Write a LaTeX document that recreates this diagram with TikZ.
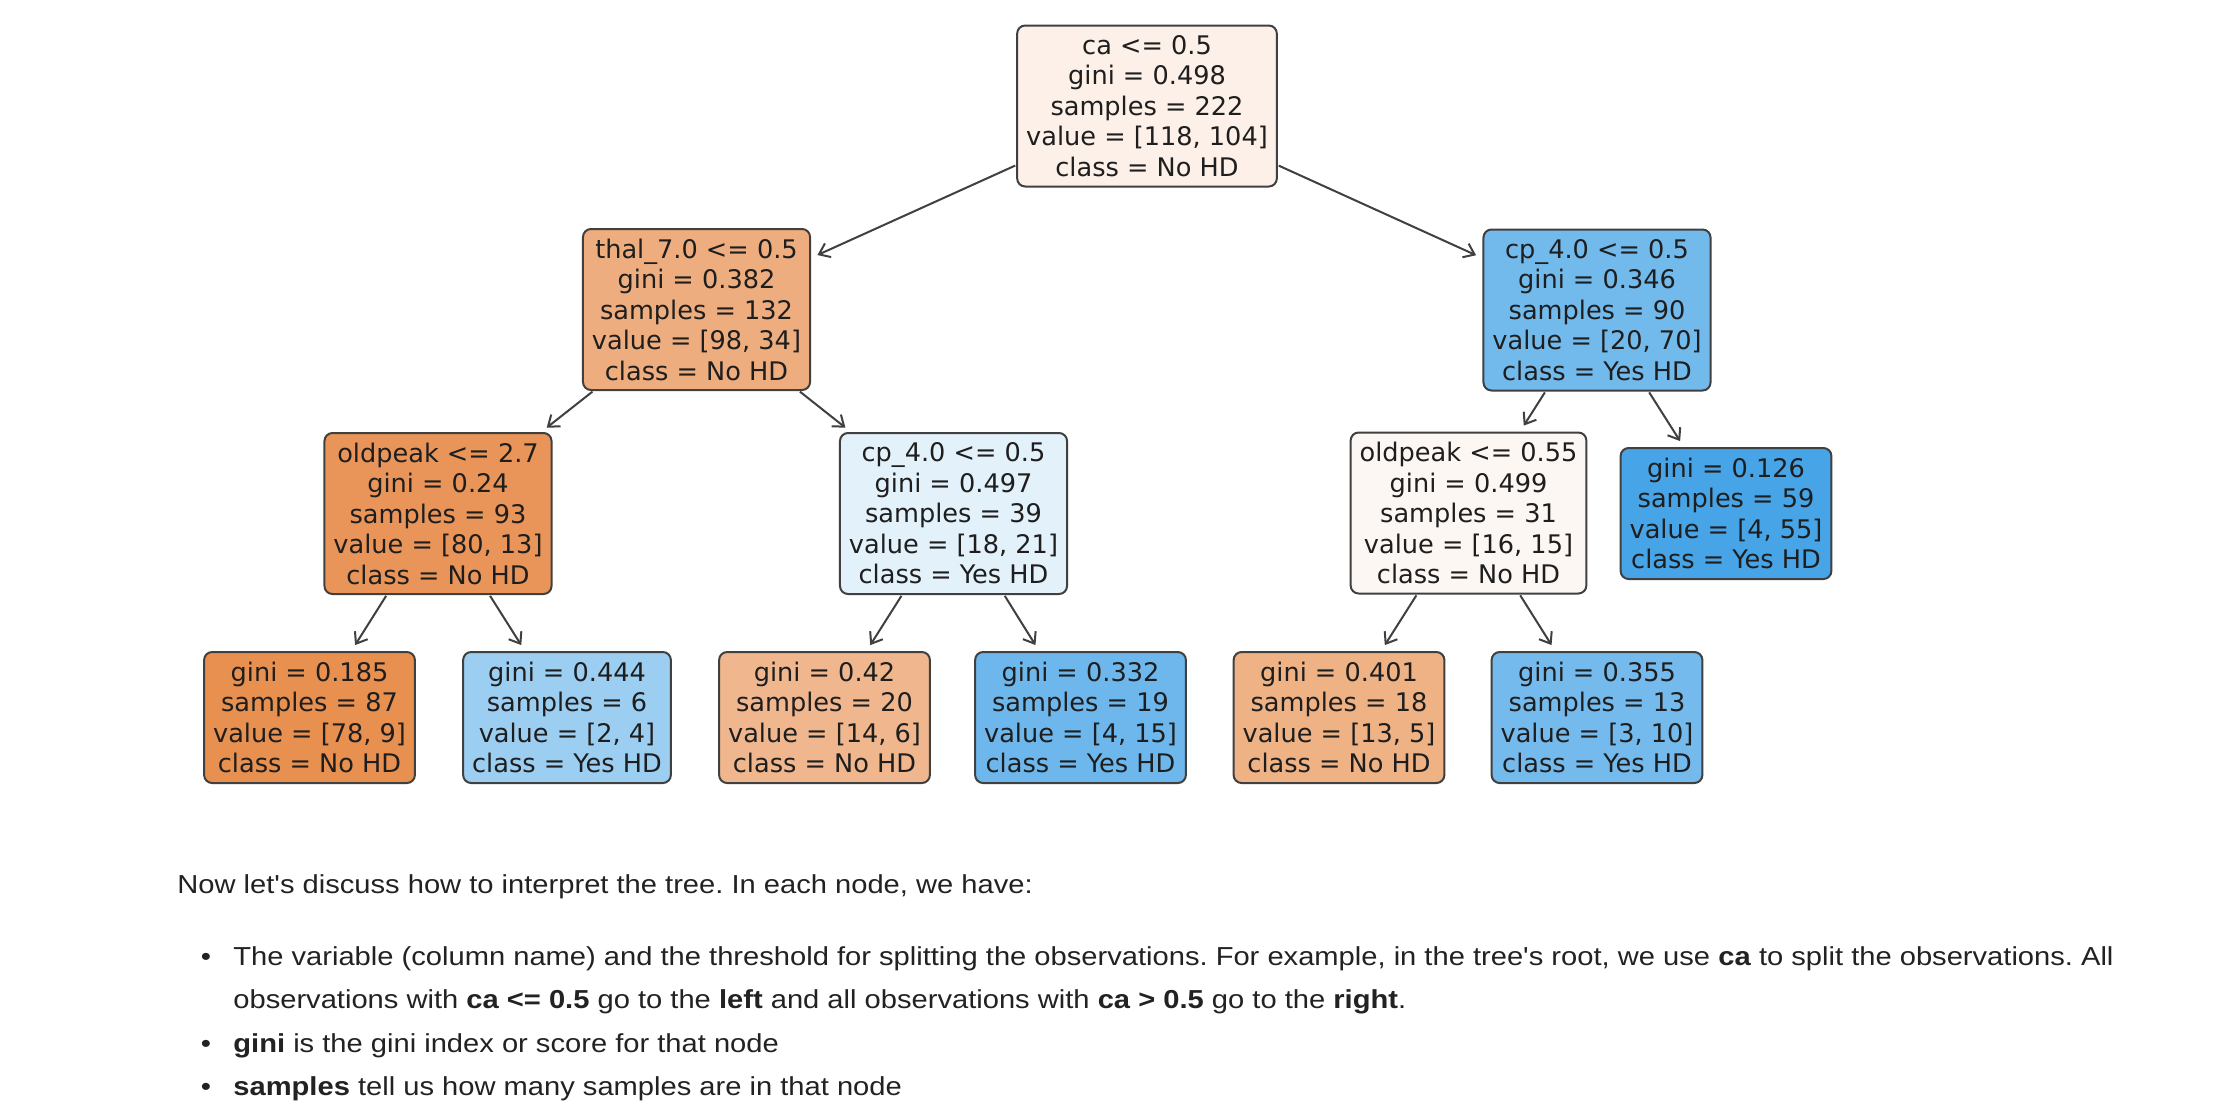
\documentclass[tikz,border=0pt]{standalone}
\usepackage{fontspec}
\setmainfont{DejaVu Sans}
\newfontfamily\bodyfont{Liberation Sans}[FakeStretch=1.12,Ligatures=TeXOff]
\usetikzlibrary{arrows.meta}
\frenchspacing
\definecolor{bordc}{RGB}{64,64,64}
\definecolor{arrc}{RGB}{64,64,64}
\definecolor{txtc}{RGB}{30,30,30}
\definecolor{bodyc}{RGB}{34,34,34}
\definecolor{nroot}{RGB}{252,240,232}
\definecolor{nthal}{RGB}{238,173,126}
\definecolor{ncpr}{RGB}{114,185,236}
\definecolor{nopa}{RGB}{233,149,89}
\definecolor{ncpm}{RGB}{227,241,251}
\definecolor{nopb}{RGB}{253,247,243}
\definecolor{nga}{RGB}{71,164,231}
\definecolor{ngb}{RGB}{232,144,80}
\definecolor{ngc}{RGB}{156,206,242}
\definecolor{ngd}{RGB}{240,183,142}
\definecolor{nge}{RGB}{110,183,236}
\definecolor{ngf}{RGB}{239,178,133}
\definecolor{ngg}{RGB}{116,186,237}
\begin{document}
\frenchspacing
\begin{tikzpicture}[x=0.5pt,y=-0.5pt,
  tn/.style={draw=bordc, line width=1pt, rounded corners=4pt, align=center,
    font=\fontsize{12.8pt}{15.25pt}\selectfont, text=txtc, inner xsep=4.5pt, inner ysep=0pt},
  splitbox/.style={tn, minimum height=80.5pt},
  leafbox/.style={tn, minimum height=65.5pt},
  edge/.style={draw=arrc, line width=1pt, -{Straight Barb[length=5pt,width=7.5pt]}, shorten <=0.5pt, shorten >=3.5pt},
  bodyline/.style={anchor=base west, inner sep=0pt, text=bodyc, font=\bodyfont\fontsize{13pt}{15pt}\selectfont},
  bul/.style={anchor=base, inner sep=0pt, text=bodyc, font=\bodyfont\fontsize{13pt}{15pt}\selectfont}]
\fill[white] (0,0) rectangle (2216,1104);
\useasboundingbox (0,0) rectangle (2216,1104);

\node[splitbox, fill=nroot] (root) at (1147,106) {ca <= 0.5\\gini = 0.498\\samples = 222\\value = [118, 104]\\class = No HD};
\node[splitbox, fill=nthal] (thal) at (696.5,309.5) {thal\_7.0 <= 0.5\\gini = 0.382\\samples = 132\\value = [98, 34]\\class = No HD};
\node[splitbox, fill=ncpr] (cpr) at (1597,310) {cp\_4.0 <= 0.5\\gini = 0.346\\samples = 90\\value = [20, 70]\\class = Yes HD};
\node[splitbox, fill=nopa] (opa) at (438,513.5) {oldpeak <= 2.7\\gini = 0.24\\samples = 93\\value = [80, 13]\\class = No HD};
\node[splitbox, fill=ncpm] (cpm) at (953.5,513.5) {cp\_4.0 <= 0.5\\gini = 0.497\\samples = 39\\value = [18, 21]\\class = Yes HD};
\node[splitbox, fill=nopb] (opb) at (1468.5,513) {oldpeak <= 0.55\\gini = 0.499\\samples = 31\\value = [16, 15]\\class = No HD};
\node[leafbox, fill=nga] (ga) at (1726,513.5) {gini = 0.126\\samples = 59\\value = [4, 55]\\class = Yes HD};
\node[leafbox, fill=ngb] (gb) at (309.5,717.5) {gini = 0.185\\samples = 87\\value = [78, 9]\\class = No HD};
\node[leafbox, fill=ngc] (gc) at (567,717.5) {gini = 0.444\\samples = 6\\value = [2, 4]\\class = Yes HD};
\node[leafbox, fill=ngd] (gd) at (824.5,717.5) {gini = 0.42\\samples = 20\\value = [14, 6]\\class = No HD};
\node[leafbox, fill=nge] (ge) at (1080.5,717.5) {gini = 0.332\\samples = 19\\value = [4, 15]\\class = Yes HD};
\node[leafbox, fill=ngf] (gf) at (1339,717.5) {gini = 0.401\\samples = 18\\value = [13, 5]\\class = No HD};
\node[leafbox, fill=ngg] (gg) at (1597,717.5) {gini = 0.355\\samples = 13\\value = [3, 10]\\class = Yes HD};

\draw[edge] (root) -- (thal);
\draw[edge] (root) -- (cpr);
\draw[edge] (thal) -- (opa);
\draw[edge] (thal) -- (cpm);
\draw[edge] (cpr) -- (opb);
\draw[edge] (cpr) -- (ga);
\draw[edge] (opa) -- (gb);
\draw[edge] (opa) -- (gc);
\draw[edge] (cpm) -- (gd);
\draw[edge] (cpm) -- (ge);
\draw[edge] (opb) -- (gf);
\draw[edge] (opb) -- (gg);

\node[bodyline] (t0) at (177,893) {Now let's discuss how to interpret the tree. In each node, we have:};
\node[bul] (b1) at (206,965) {•};
\node[bodyline] (t1) at (233,965) {The variable (column name) and the threshold for splitting the observations. For example, in the tree's root, we use \textbf{ca} to split the observations. All};
\node[bodyline] (t2) at (233,1008) {observations with \textbf{ca <= 0.5} go to the \textbf{left} and all observations with \textbf{ca > 0.5} go to the \textbf{right}.};
\node[bul] (b3) at (206,1052) {•};
\node[bodyline] (t3) at (233,1052) {\textbf{gini} is the gini index or score for that node};
\node[bul] (b4) at (206,1095) {•};
\node[bodyline] (t4) at (233,1095) {\textbf{samples} tell us how many samples are in that node};
\end{tikzpicture}
\end{document}
